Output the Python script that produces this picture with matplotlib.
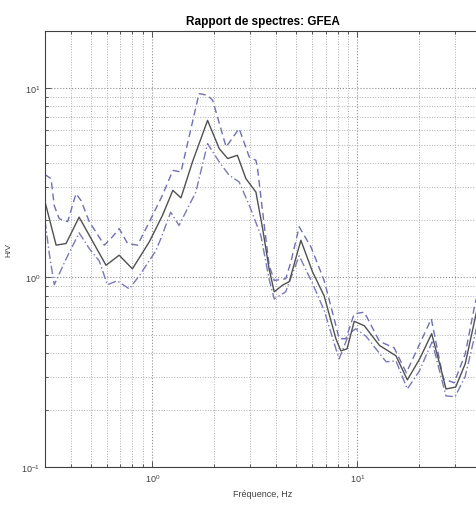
import numpy as np
import matplotlib
matplotlib.use("Agg")
import matplotlib.pyplot as plt
from matplotlib.ticker import LogLocator, NullFormatter

plt.rcParams['font.family'] = ['Liberation Sans', 'DejaVu Sans']

# H/V spectral ratio, mean curve
f_mean = [0.30, 0.34, 0.38, 0.44, 0.595, 0.69, 0.80, 0.967, 1.12, 1.26, 1.38, 1.57,
          1.86, 2.12, 2.33, 2.60, 2.86, 3.20, 3.45, 3.71, 3.93, 4.31, 4.65, 5.30,
          6.04, 6.88, 7.85, 8.3, 8.9, 9.64, 10.8, 12.8, 15.4, 17.5, 20.1, 23.0,
          25.5, 27.0, 30.1, 33.5, 37.4, 40.0]
hv_mean = [2.51, 1.48, 1.51, 2.08, 1.16, 1.31, 1.11, 1.54, 2.12, 2.88, 2.63, 4.07,
           6.74, 4.78, 4.24, 4.41, 3.32, 2.82, 1.81, 1.11, 0.84, 0.91, 0.95, 1.57,
           1.07, 0.80, 0.475, 0.41, 0.42, 0.587, 0.556, 0.438, 0.386, 0.288, 0.372, 0.505,
           0.330, 0.258, 0.264, 0.35, 0.605, 0.85]

# mean * std (upper)
f_up = [0.30, 0.321, 0.333, 0.352, 0.387, 0.425, 0.45, 0.493, 0.584, 0.64, 0.69, 0.758,
        0.848, 0.967, 1.12, 1.26, 1.38, 1.69, 1.86, 1.97, 2.29, 2.65, 2.97, 3.20,
        3.26, 3.45, 3.71, 3.93, 4.47, 4.74, 5.20, 5.93, 6.88, 7.85, 8.14, 8.78,
        9.64, 10.8, 12.8, 15.1, 17.3, 22.9, 26.2, 29.6, 33.5, 37.4, 40.0]
hv_up = [3.49, 3.32, 2.39, 2.04, 1.97, 2.77, 2.54, 1.97, 1.48, 1.64, 1.81, 1.51,
         1.48, 1.96, 2.71, 3.67, 3.60, 9.33, 9.14, 8.60, 4.88, 6.10, 4.32, 4.15,
         3.75, 2.22, 1.16, 0.964, 0.984, 1.21, 1.85, 1.45, 0.964, 0.558, 0.475, 0.475,
         0.643, 0.656, 0.46, 0.425, 0.314, 0.605, 0.292, 0.278, 0.395, 0.726, 0.95]

# mean / std (lower)
f_low = [0.30, 0.315, 0.333, 0.38, 0.44, 0.493, 0.552, 0.604, 0.675, 0.773, 0.864, 1.04,
         1.10, 1.23, 1.35, 1.63, 1.86, 2.12, 2.37, 2.65, 2.97, 3.38, 3.71, 3.93,
         4.47, 5.20, 6.04, 6.88, 7.85, 8.14, 9.1, 9.8, 11.0, 13.8, 15.4, 17.5,
         20.0, 23.1, 27.0, 29.9, 33.5, 37.4, 40.0]
hv_low = [2.0, 1.33, 0.915, 1.25, 1.72, 1.42, 1.22, 0.915, 0.96, 0.87, 1.02, 1.38,
          1.60, 2.21, 1.88, 2.82, 5.08, 4.07, 3.46, 3.19, 2.40, 1.67, 0.98, 0.77,
          0.84, 1.30, 0.93, 0.67, 0.42, 0.372, 0.505, 0.536, 0.49, 0.359, 0.363, 0.258,
          0.32, 0.457, 0.237, 0.235, 0.30, 0.50, 0.7]

fig = plt.figure(figsize=(4.76, 5.06), dpi=100)
# axes runs a bit past the right edge, like the cropped original
ax = fig.add_axes([0.0945, 0.0751, 0.916, 0.862])

ax.loglog(f_up, hv_up, color='#6f6fb4', lw=1.0, ls=(0, (5, 3)))
ax.loglog(f_low, hv_low, color='#7a7ab8', lw=1.0, ls=(0, (6, 2, 1, 2)))
ax.loglog(f_mean, hv_mean, color='#505050', lw=1.0)

ax.set_xlim(0.3, 40)
ax.set_ylim(0.1, 20)

ax.xaxis.set_minor_locator(LogLocator(base=10, subs=np.arange(2, 10)))
ax.yaxis.set_minor_locator(LogLocator(base=10, subs=np.arange(2, 10)))
ax.xaxis.set_minor_formatter(NullFormatter())
ax.yaxis.set_minor_formatter(NullFormatter())

ax.grid(True, which='major', ls=':', color='#8c8c8c', lw=0.8)
ax.grid(True, which='minor', ls=':', color='#b0b0b0', lw=0.7)

ax.tick_params(which='both', direction='in', top=True, right=True,
               colors='#404040', labelsize=6.5, width=0.6)
ax.tick_params(which='major', length=4)
ax.tick_params(which='minor', length=2)
for s in ax.spines.values():
    s.set_color('#404040')
    s.set_linewidth(0.8)

ax.set_title('Rapport de spectres: GFEA', fontsize=8.5, fontweight='bold', pad=5)
ax.set_xlabel('Fréquence, Hz', fontsize=6.5, color='#404040', labelpad=4)
ax.set_ylabel('H/V', fontsize=6, color='#404040', labelpad=6)

fig.savefig('out.png', dpi=100)
